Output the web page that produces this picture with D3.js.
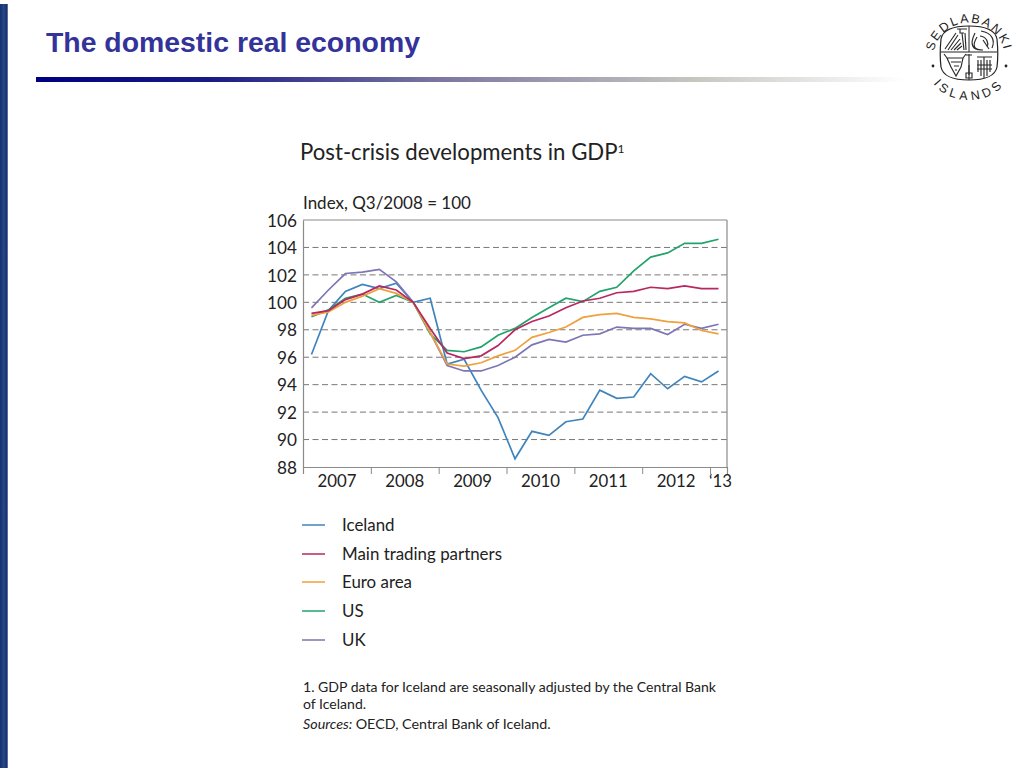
<!DOCTYPE html>
<html><head><meta charset="utf-8">
<script src="https://cdnjs.cloudflare.com/ajax/libs/d3/7.8.5/d3.min.js"></script>
<style>html,body{margin:0;padding:0;background:#fff}svg{display:block}
text{font-family:"Lato",sans-serif;fill:#222}</style></head><body>
<svg id="c" width="1024" height="768"></svg>
<script>
const yearTicks=[2007,2008,2009,2010,2011,2012,2013,2013.25];
const yearLabels=["2007","2008","2009","2010","2011","2012","‘13"];
const yValues=[88,90,92,94,96,98,100,102,104,106];
const gridValues=[90,92,94,96,98,100,102,104];
const quarters=[2007.125,2007.375,2007.625,2007.875,2008.125,2008.375,2008.625,2008.875,2009.125,2009.375,2009.625,2009.875,2010.125,2010.375,2010.625,2010.875,2011.125,2011.375,2011.625,2011.875,2012.125,2012.375,2012.625,2012.875,2013.125];
const iceland=[96.2,99.4,100.8,101.3,101.0,101.4,100,100.3,95.5,95.85,93.6,91.6,88.6,90.6,90.3,91.3,91.5,93.6,93.0,93.1,94.8,93.7,94.6,94.2,95.0];
const partners=[99.2,99.4,100.2,100.6,101.2,100.9,100,98.1,96.3,95.9,96.1,96.85,98.0,98.6,99.0,99.6,100.1,100.3,100.7,100.8,101.1,101.0,101.2,101.0,101.0];
const euro=[99.05,99.3,100.0,100.45,101.0,100.65,100,97.8,95.5,95.35,95.6,96.1,96.5,97.45,97.8,98.2,98.9,99.1,99.2,98.9,98.8,98.6,98.5,97.95,97.7];
const us=[98.95,99.45,100.3,100.6,100.0,100.5,100,97.7,96.5,96.4,96.75,97.6,98.1,98.9,99.6,100.3,100.05,100.8,101.1,102.3,103.3,103.6,104.3,104.3,104.6];
const uk=[99.6,100.9,102.1,102.2,102.4,101.5,100,97.8,95.4,95.0,95.0,95.4,96.0,96.9,97.3,97.1,97.6,97.7,98.2,98.1,98.1,97.65,98.4,98.1,98.4];
const seriesNames=["Iceland","Main trading partners","Euro area","US","UK"];
const seriesValues=[iceland,partners,euro,us,uk];
const seriesColors=["#3f84bd","#b8275f","#f0a03c","#22a36b","#7d75b5"];

const svg=d3.select("#c");
const defs=svg.append("defs");
const g1=defs.append("linearGradient").attr("id","rule");
[[0,"#000080"],[.2,"#1a1a85"],[.45,"#77739f"],[.75,"#c5c5c0"],[1,"#ffffff"]].forEach(s=>g1.append("stop").attr("offset",s[0]).attr("stop-color",s[1]));
const g2=defs.append("linearGradient").attr("id","band");
[[0,"#16306a"],[.5,"#27488a"],[.85,"#16306a"],[1,"#8f9cc0"]].forEach(s=>g2.append("stop").attr("offset",s[0]).attr("stop-color",s[1]));

svg.append("rect").attr("x",0).attr("y",4).attr("width",8).attr("height",764).attr("fill","url(#band)");
svg.append("text").attr("x",46).attr("y",52).style("font-family","'Liberation Sans'").style("font-weight","700").style("font-size","28.4px").style("fill","#333399").text("The domestic real economy");
svg.append("rect").attr("x",36).attr("y",77).attr("width",870).attr("height",5).attr("fill","url(#rule)");

// logo
const lg=svg.append("g").attr("transform","translate(969,53)");
defs.append("path").attr("id","arcTop").attr("d","M-36,8 C-37,-16 -18,-30.5 0,-30.5 C18,-30.5 37,-16 36,8");
defs.append("path").attr("id","arcBot").attr("d","M-40,17 A40,30 0 0 0 40,17");
lg.append("text").style("font-family","'Liberation Sans'").style("font-size","12.5px").style("letter-spacing","2px").append("textPath").attr("href","#arcTop").attr("startOffset","50%").attr("text-anchor","middle").text("SEDLABANKI");
lg.append("text").style("font-family","'Liberation Sans'").style("font-size","12.5px").style("letter-spacing","4px").append("textPath").attr("href","#arcBot").attr("startOffset","50%").attr("text-anchor","middle").text("ISLANDS");
lg.append("path").attr("d","M-28,-14 C-26,-24 -14,-27 0,-27 C14,-27 26,-24 28,-14 C29,-4 29,6 28,14 C26,24 14,27 0,27 C-14,27 -26,24 -28,14 C-29,6 -29,-4 -28,-14Z").attr("fill","none").attr("stroke","#222").attr("stroke-width",1.2);
lg.append("path").attr("d","M0,-27V-1M0,12V27M-28,-1H28").attr("stroke","#222").attr("stroke-width",1).attr("fill","none");
lg.append("path").attr("d","M-24,-4 L-13,-20 M-21,-3 L-11,-18 M-18,-3 L-9,-14 M-15,-3 L-8,-10 M-12,-3 L-7,-7 M-12,-24 H-2 M-9,-24 V-20 H-5 M-7,-20 L-5,-3 M-4,-20 L-3,-3 M8,-16 C2,-6 6,-3 14,-3 M6,-20 C0,-8 4,-3 12,-3 M12,-22 C24,-20 26,-12 23,-5 M11,-17 C18,-16 20,-10 18,-6 M14,-13 L20,-4 M-22,5 H-6 L-8,14 L-13,23 L-18,14Z M-18,9 H-8 M-15,13 H-10 M-14,17 H-12 M-22,5 L-25,1 M-6,5 L-3,1 M0,1 V22 M-3,2 H3 M-3,20 H3 V25 H-3Z M8,4 H23 M9,7 V19 M12,7 V23 M15,4 V25 M18,7 V23 M21,7 V19 M8,12 H23 M8,16 H23").attr("stroke","#2a2a2a").attr("stroke-width",1.15).attr("fill","none");
lg.append("circle").attr("cx",-36).attr("cy",13).attr("r",1.4).attr("fill","#222");
lg.append("circle").attr("cx",37).attr("cy",13).attr("r",1.4).attr("fill","#222");

// chart heading
const ht=svg.append("text").attr("x",300).attr("y",160).style("font-size","22.2px").text("Post-crisis developments in GDP");
ht.append("tspan").attr("dy",-7).style("font-size","12px").text("1");
svg.append("text").attr("x",303).attr("y",209).style("font-size","17px").text("Index, Q3/2008 = 100");

const x=d3.scaleLinear().domain([2007,2013.25]).range([303,727]);
const y=d3.scaleLinear().domain([88,106]).range([467,220]);

svg.append("g").selectAll("line").data(gridValues).join("line")
 .attr("x1",x.range()[0]).attr("x2",x.range()[1]).attr("y1",d=>y(d)).attr("y2",d=>y(d))
 .attr("stroke","#777").attr("stroke-width",1).attr("stroke-dasharray","6 3.5");

const yAxis=d3.axisLeft(y).tickValues(yValues).tickSize(0).tickPadding(6).tickFormat(d3.format("d"));
const ya=svg.append("g").attr("transform","translate(303,0)").call(yAxis);
ya.selectAll("text").style("font-size","17.2px").style("fill","#222").attr("dy","0.36em");
ya.select(".domain").attr("stroke","#8a8a8a").attr("stroke-width",1.2);

const xAxis=d3.axisBottom(x).tickValues(yearTicks).tickSize(7).tickFormat("");
const xa=svg.append("g").attr("transform","translate(0,467)").call(xAxis);
xa.select(".domain").attr("stroke","#8a8a8a").attr("stroke-width",1.2);
xa.selectAll(".tick line").attr("stroke","#8a8a8a");
svg.append("g").selectAll("text").data(yearLabels).join("text")
 .attr("x",(d,i)=>i<6?x((yearTicks[i]+yearTicks[i+1])/2):x(2013.125)+2)
 .attr("y",487).attr("text-anchor","middle").style("font-size","16.8px").text(d=>d);

svg.append("line").attr("x1",727).attr("x2",727).attr("y1",y(88)).attr("y2",y(106)).attr("stroke","#8a8a8a").attr("stroke-width",1.2);
svg.append("line").attr("x1",303).attr("x2",727).attr("y1",y(106)).attr("y2",y(106)).attr("stroke","#8a8a8a").attr("stroke-width",1.2);

const line=d3.line().x((d,i)=>x(quarters[i])).y(d=>y(d));
const order=[0,4,3,2,1];
order.forEach(k=>svg.append("path").attr("d",line(seriesValues[k])).attr("fill","none").attr("stroke",seriesColors[k]).attr("stroke-width",1.7));

// legend
const legY=[525,554,582,611,640];
const leg=svg.append("g").selectAll("g").data(seriesNames).join("g").attr("transform",(d,i)=>`translate(302,${legY[i]})`);
leg.append("line").attr("x2",23).attr("stroke",(d,i)=>seriesColors[i]).attr("stroke-width",1.5);
leg.append("text").attr("x",40).attr("y",6).style("font-size","16.9px").text(d=>d);

// notes
const note=svg.append("g").style("font-size","14.05px");
note.append("text").attr("x",303).attr("y",692).text("1. GDP data for Iceland are seasonally adjusted by the Central Bank");
note.append("text").attr("x",303).attr("y",709).text("of Iceland.");
const src=note.append("text").attr("x",303).attr("y",729).style("font-size","14.3px");
src.append("tspan").style("font-style","italic").text("Sources: ");
src.append("tspan").text("OECD, Central Bank of Iceland.");
</script></body></html>
